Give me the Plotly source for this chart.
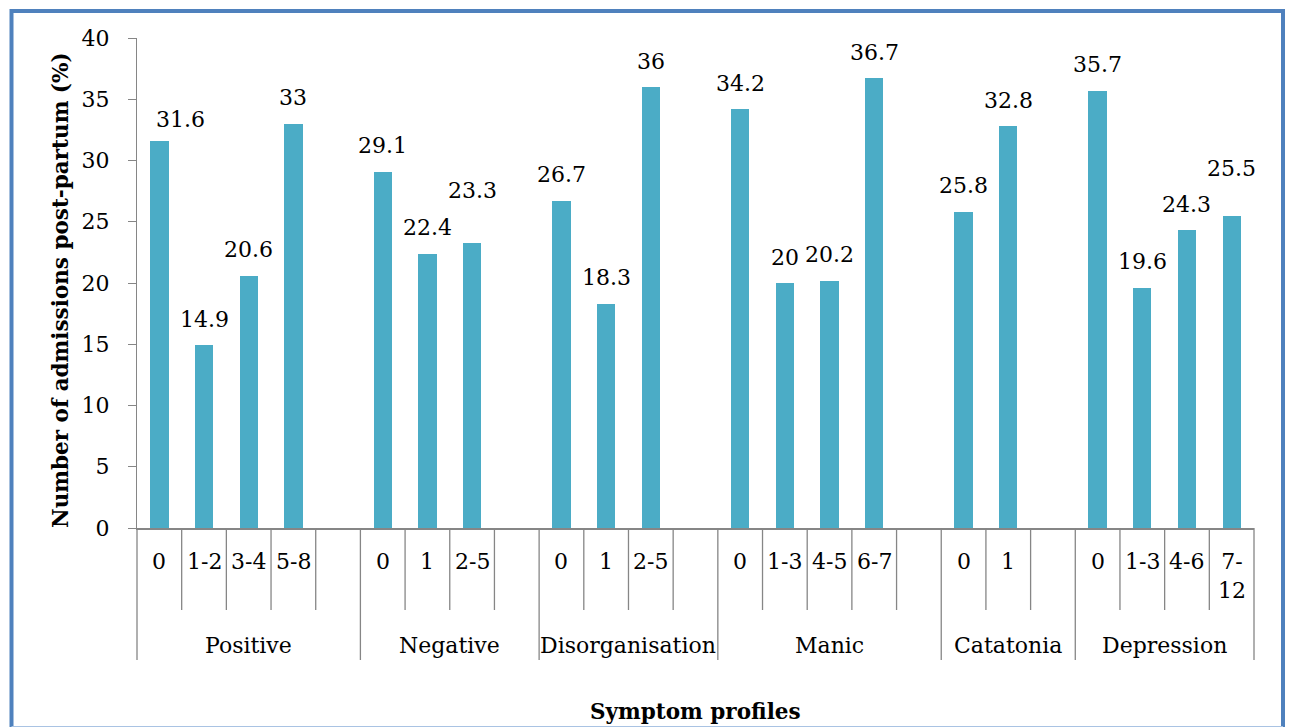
import plotly.graph_objects as go

# ---------------- data ----------------
groups = ["Positive", "Negative", "Disorganisation", "Manic", "Catatonia", "Depression"]
positive_cats = ["0", "1-2", "3-4", "5-8", ""]
positive_vals = [31.6, 14.9, 20.6, 33, None]
negative_cats = ["0", "1", "2-5", ""]
negative_vals = [29.1, 22.4, 23.3, None]
disorg_cats = ["0", "1", "2-5", ""]
disorg_vals = [26.7, 18.3, 36, None]
manic_cats = ["0", "1-3", "4-5", "6-7", ""]
manic_vals = [34.2, 20, 20.2, 36.7, None]
catatonia_cats = ["0", "1", ""]
catatonia_vals = [25.8, 32.8, None]
depression_cats = ["0", "1-3", "4-6", "7-<br>12"]
depression_vals = [35.7, 19.6, 24.3, 25.5]

group_cats = [positive_cats, negative_cats, disorg_cats, manic_cats, catatonia_cats, depression_cats]
group_vals = [positive_vals, negative_vals, disorg_vals, manic_vals, catatonia_vals, depression_vals]

x_title = "Symptom profiles"
y_title = "Number of admissions post-partum (%)"

# ---------------- layout constants (pixels) ----------------
W, H = 1293, 727
L, R, T, B = 137, 39, 38, 199
PW, PH = W - L - R, H - T - B
AX_Y = T + PH  # pixel row of the x axis


def px_x(p):
    return (p - L) / PW


def px_y(p):
    return (AX_Y - p) / PH


FONT = "DejaVu Serif"
FS = 22
TITLE_FS = 21.5
BAR_COLOR = "#4BACC6"
AXIS_COLOR = "#868686"
FRAME_COLOR = "#4F81BD"

# flatten slots
xs, vals, cats = [], [], []
group_bounds = [0]
for gc, gv in zip(group_cats, group_vals):
    for c, v in zip(gc, gv):
        xs.append(len(xs))
        vals.append(v)
        cats.append(c)
    group_bounds.append(len(xs))
n_slots = len(xs)

fig = go.Figure()
fig.add_trace(go.Bar(
    x=xs, y=vals, width=0.41,
    marker=dict(color=BAR_COLOR, line=dict(width=0)),
    hoverinfo="skip", showlegend=False,
))

annotations = []
# data labels (a few nudged like the reference to avoid overlaps)
label_nudge = {0: (21, -5), 7: (0, 26), 24: (0, 21)}
for i, v in zip(xs, vals):
    if v is None:
        continue
    dx, dy = label_nudge.get(i, (0, 0))
    annotations.append(dict(
        x=i, y=v, xref="x", yref="y", text=f"{v:g}", showarrow=False,
        xanchor="center", yanchor="middle", xshift=dx, yshift=26 + dy,
        font=dict(family=FONT, size=FS, color="#000000"),
    ))

# first level category labels
for i, c in zip(xs, cats):
    if not c:
        continue
    annotations.append(dict(
        x=i, y=px_y(547), xref="x", yref="paper", text=c, showarrow=False,
        xanchor="center", yanchor="top",
        font=dict(family=FONT, size=FS, color="#000000"),
    ))

# group labels
for g, s, e in zip(groups, group_bounds[:-1], group_bounds[1:]):
    annotations.append(dict(
        x=(s + e - 1) / 2, y=px_y(645), xref="x", yref="paper", text=g,
        showarrow=False, xanchor="center", yanchor="middle",
        font=dict(family=FONT, size=FS, color="#000000"),
    ))

# axis titles
annotations.append(dict(
    x=0.5, y=px_y(711), xref="paper", yref="paper", text=f"<b>{x_title}</b>",
    showarrow=False, xanchor="center", yanchor="middle",
    font=dict(family=FONT, size=TITLE_FS, color="#000000"),
))
annotations.append(dict(
    x=px_x(60), y=px_y(290), xref="paper", yref="paper", text=f"<b>{y_title}</b>",
    showarrow=False, xanchor="center", yanchor="middle", textangle=-90,
    font=dict(family=FONT, size=TITLE_FS, color="#000000"),
))

shapes = []
# category separator lines below the axis
for k in range(n_slots + 1):
    bottom = 660 if k in group_bounds else 610
    shapes.append(dict(
        type="line", xref="paper", yref="paper",
        x0=k / n_slots, x1=k / n_slots, y0=0, y1=px_y(bottom),
        line=dict(color=AXIS_COLOR, width=1.3),
    ))
# outer frame
shapes.append(dict(
    type="rect", xref="paper", yref="paper",
    x0=px_x(11.5), x1=px_x(1283), y0=px_y(11), y1=px_y(731),
    line=dict(color=FRAME_COLOR, width=4), fillcolor="rgba(0,0,0,0)",
))
shapes.append(dict(
    type="line", xref="paper", yref="paper",
    x0=px_x(11.5), x1=px_x(1283), y0=px_y(726.5), y1=px_y(726.5),
    line=dict(color="#A9C3E3", width=1),
))

fig.update_layout(
    width=W, height=H,
    margin=dict(l=L, r=R, t=T, b=B, autoexpand=False),
    paper_bgcolor="white", plot_bgcolor="white",
    font=dict(family=FONT, size=FS, color="#000000"),
    annotations=annotations, shapes=shapes,
    bargap=0,
    xaxis=dict(
        range=[-0.5, n_slots - 0.5], showgrid=False, zeroline=False,
        showticklabels=False, ticks="", showline=True,
        linecolor=AXIS_COLOR, linewidth=2, fixedrange=True,
    ),
    yaxis=dict(
        range=[0, 40], dtick=5, tick0=0, showgrid=False, zeroline=False,
        showline=True, linecolor=AXIS_COLOR, linewidth=1.3,
        ticks="outside", ticklen=8, tickwidth=1.3, tickcolor=AXIS_COLOR,
        ticklabelstandoff=14,
        tickfont=dict(family=FONT, size=FS, color="#000000"),
        fixedrange=True,
    ),
)

fig.write_html(
    "out.html",
    config={"displayModeBar": False},
    post_script=(
        "document.body.style.margin='0';"
        "document.body.style.overflow='hidden';"
        "document.documentElement.style.overflow='hidden';"
    ),
)
